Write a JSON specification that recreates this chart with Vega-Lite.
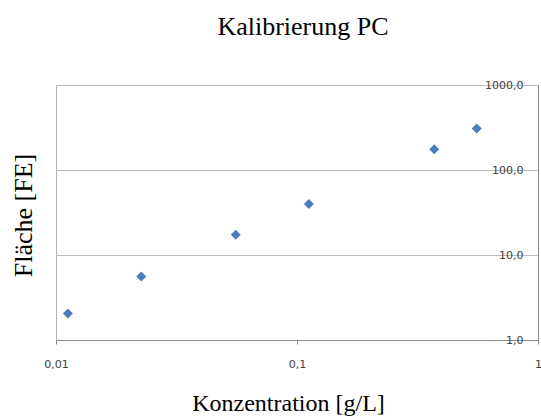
{
  "$schema": "https://vega.github.io/schema/vega-lite/v6.json",
  "width": 482,
  "height": 255,
  "autosize": {"type": "none"},
  "padding": {"left": 56, "top": 85, "right": 3, "bottom": 76},
  "background": "white",
  "config": {
    "view": {"stroke": "#b3b3b3", "strokeWidth": 1},
    "axis": {"labelFont": "DejaVu Sans", "labelFontSize": 11, "labelColor": "#404040", "titleFont": "Liberation Serif", "titleFontSize": 26, "titleFontWeight": "normal", "titleColor": "black", "gridColor": "#bcbcbc", "domainColor": "#8c8c8c", "tickColor": "#8c8c8c"}
  },
  "title": {"text": "Kalibrierung PC", "font": "Liberation Serif", "fontSize": 26, "fontWeight": "normal", "color": "black", "anchor": "middle", "offset": 39, "dx": 6},
  "data": {
    "values": [
      {"konz": 0.0112, "flaeche": 2.05},
      {"konz": 0.0226, "flaeche": 5.6},
      {"konz": 0.0557, "flaeche": 17.3},
      {"konz": 0.112, "flaeche": 39.8},
      {"konz": 0.371, "flaeche": 175},
      {"konz": 0.557, "flaeche": 308}
    ]
  },
  "mark": {"type": "point", "shape": "diamond", "filled": true, "color": "#4a7ebb", "opacity": 1, "size": 100},
  "encoding": {
    "x": {
      "field": "konz", "type": "quantitative",
      "scale": {"type": "log", "domain": [0.01, 1], "nice": false},
      "axis": {
        "title": "Konzentration [g/L]", "values": [0.01, 0.1, 1], "grid": false,
        "tickSize": 4, "labelPadding": 14, "labelFlush": false, "labelOverlap": false,
        "labelExpr": "replace(toString(datum.value), '.', ',')",
        "titleFontSize": 24, "titleX": 232, "titleY": 70, "titleAlign": "center", "titleBaseline": "alphabetic"
      }
    },
    "y": {
      "field": "flaeche", "type": "quantitative",
      "scale": {"type": "log", "domain": [1, 1000], "nice": false},
      "axis": {
        "orient": "right", "title": "Fläche [FE]", "values": [1, 10, 100, 1000], "grid": true,
        "ticks": false, "labelAlign": "right", "labelPadding": -15, "labelBaseline": "middle", "labelFlush": false, "labelOverlap": false,
        "labelExpr": "replace(format(datum.value, '.1f'), '.', ',')",
        "titleX": -507, "titleY": 130, "titleAngle": -90, "titleAlign": "center", "titleBaseline": "alphabetic"
      }
    }
  }
}
